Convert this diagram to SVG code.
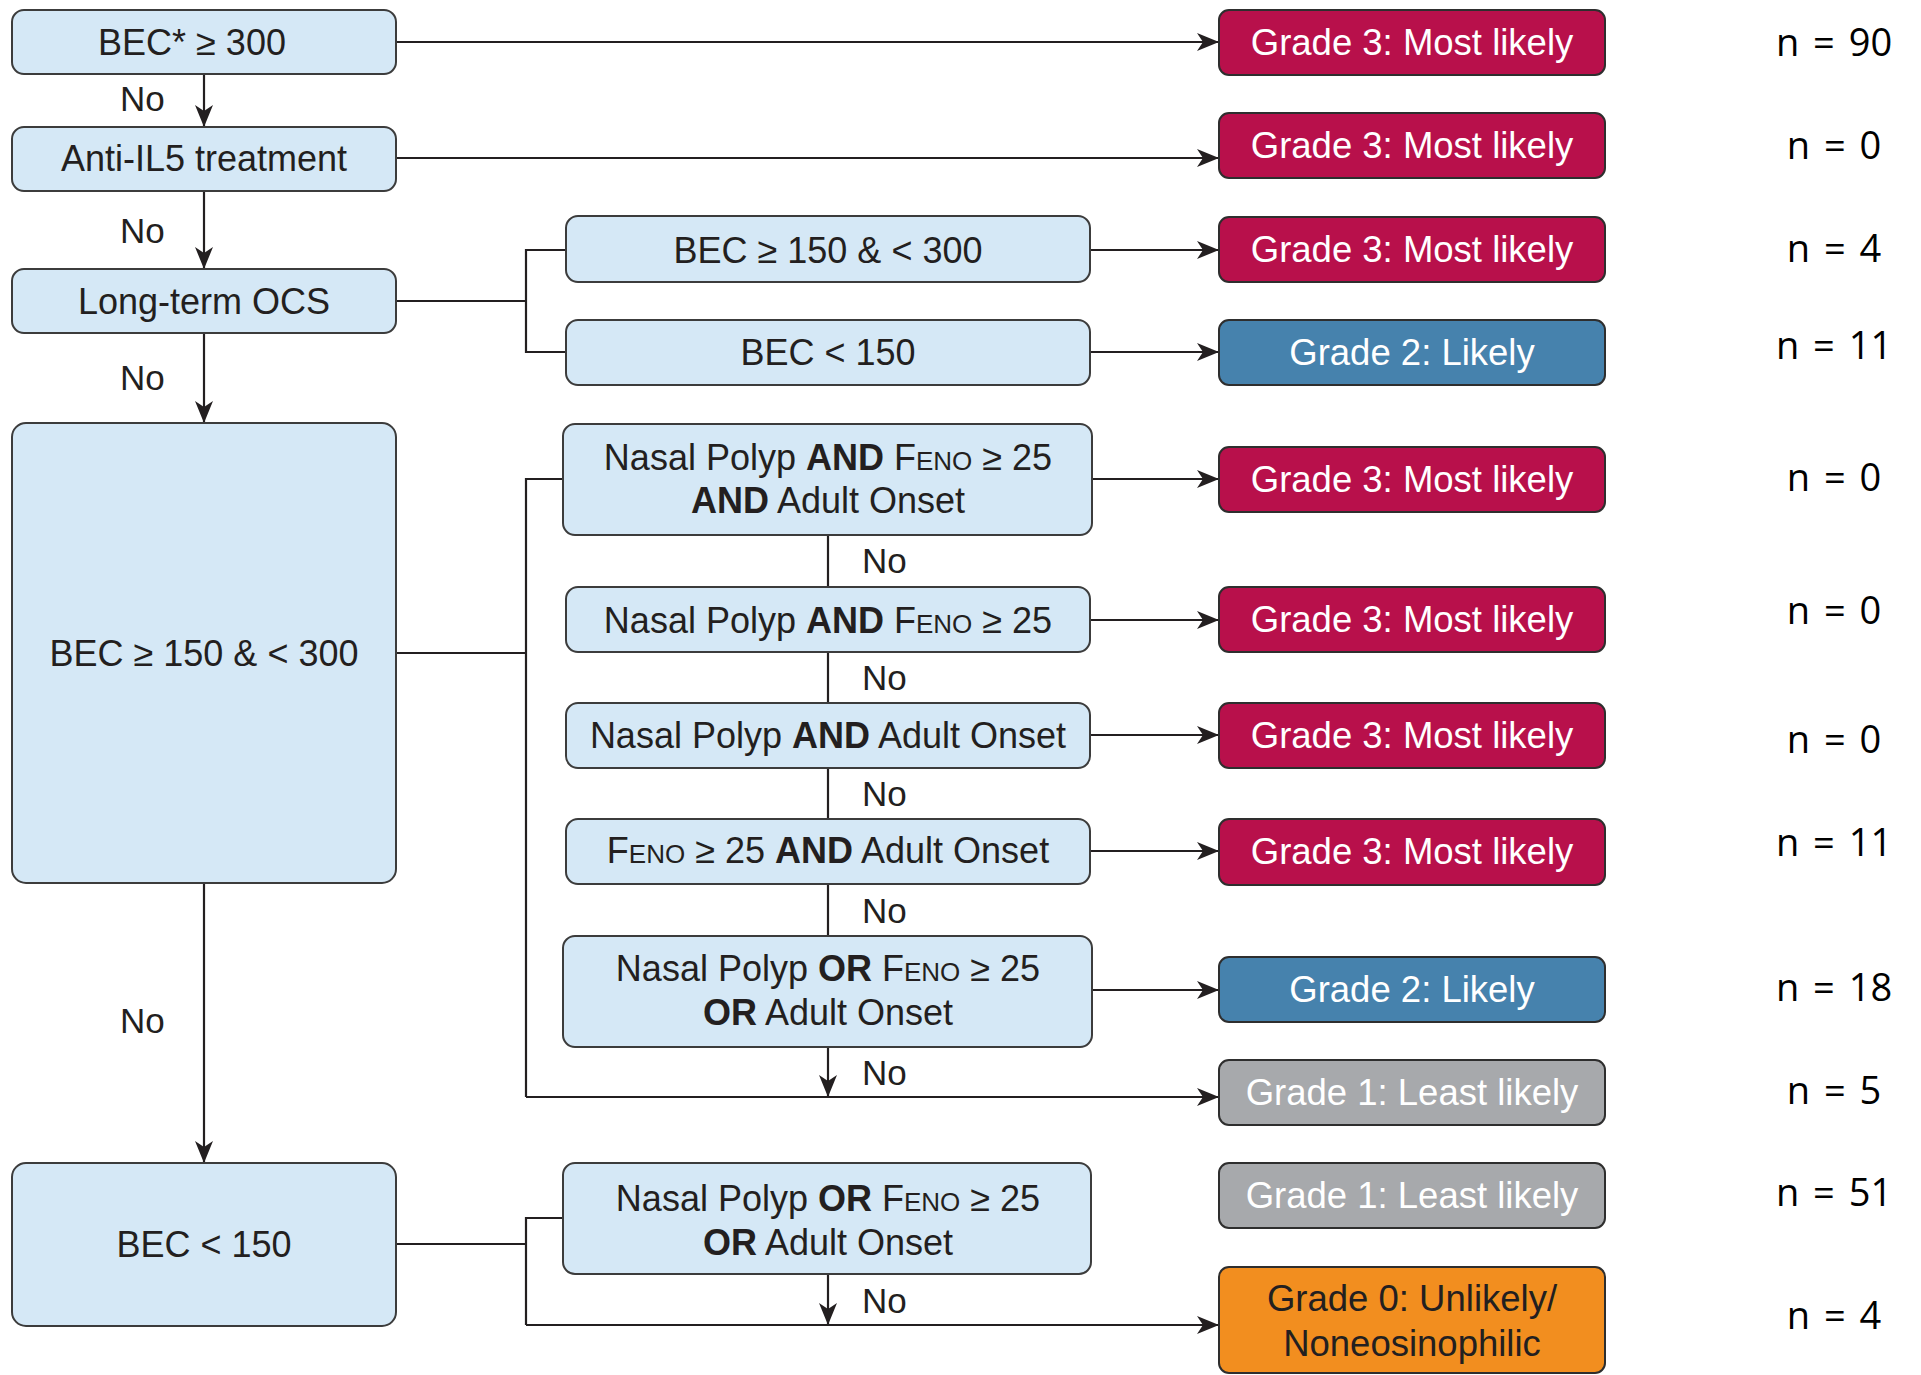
<svg xmlns="http://www.w3.org/2000/svg" width="1921" height="1375" viewBox="0 0 1921 1375">
<style>
.box{fill:#d5e8f6;stroke:#3c3c3c;stroke-width:2}
.t{font-family:"Liberation Sans",Arial,sans-serif;font-size:36px;fill:#231f20;text-anchor:middle}
.no{font-family:"Liberation Sans",Arial,sans-serif;font-size:35px;fill:#231f20}
.b{font-weight:bold}
.sc{font-size:26px}
.gb{stroke:#2e2e2e;stroke-width:2}
.g3{fill:#b8104b}
.g2{fill:#4682ad}
.g1{fill:#a7a9ac}
.g0{fill:#f28e1f}
.gt{font-family:"Liberation Sans",Arial,sans-serif;font-size:36.5px;fill:#ffffff;text-anchor:middle}
.gd{fill:#231f20}
.n{font-family:"Open Sans",sans-serif;font-size:38px;fill:#000;text-anchor:middle;word-spacing:4px}
.c{stroke:#231f20;stroke-width:2.2;fill:none}
</style>
<defs>
<marker id="ah" markerUnits="userSpaceOnUse" viewBox="0 0 22 18" markerWidth="22" markerHeight="18" refX="22" refY="9" orient="auto">
<path d="M0,0 L22,9 L0,18 L6,9 Z" fill="#231f20"/>
</marker>
</defs>

<g id="connectors">
<line class="c" x1="204" y1="74" x2="204" y2="127" marker-end="url(#ah)"/>
<line class="c" x1="204" y1="191" x2="204" y2="269" marker-end="url(#ah)"/>
<line class="c" x1="204" y1="333" x2="204" y2="423" marker-end="url(#ah)"/>
<line class="c" x1="204" y1="883" x2="204" y2="1163" marker-end="url(#ah)"/>
<line class="c" x1="396" y1="42" x2="1219" y2="42" marker-end="url(#ah)"/>
<line class="c" x1="396" y1="158" x2="1219" y2="158" marker-end="url(#ah)"/>
<path class="c" d="M396,301 H526 M566,250 H526 V352 H566"/>
<line class="c" x1="1090" y1="250" x2="1219" y2="250" marker-end="url(#ah)"/>
<line class="c" x1="1090" y1="352" x2="1219" y2="352" marker-end="url(#ah)"/>
<path class="c" d="M396,653 H526 M563,479 H526 V1097"/>
<line class="c" x1="1092" y1="479" x2="1219" y2="479" marker-end="url(#ah)"/>
<line class="c" x1="1090" y1="620" x2="1219" y2="620" marker-end="url(#ah)"/>
<line class="c" x1="1090" y1="735" x2="1219" y2="735" marker-end="url(#ah)"/>
<line class="c" x1="1090" y1="851" x2="1219" y2="851" marker-end="url(#ah)"/>
<line class="c" x1="1092" y1="990" x2="1219" y2="990" marker-end="url(#ah)"/>
<path class="c" d="M828,535 V587 M828,652 V703 M828,768 V819 M828,884 V936"/>
<line class="c" x1="828" y1="1047" x2="828" y2="1097" marker-end="url(#ah)"/>
<line class="c" x1="526" y1="1097" x2="1219" y2="1097" marker-end="url(#ah)"/>
<path class="c" d="M396,1244 H526 M563,1218 H526 V1325"/>
<line class="c" x1="828" y1="1274" x2="828" y2="1325" marker-end="url(#ah)"/>
<line class="c" x1="526" y1="1325" x2="1219" y2="1325" marker-end="url(#ah)"/>
<text class="no" x="120" y="111">No</text>
<text class="no" x="120" y="243">No</text>
<text class="no" x="120" y="390">No</text>
<text class="no" x="120" y="1033">No</text>
<text class="no" x="862" y="573">No</text>
<text class="no" x="862" y="690">No</text>
<text class="no" x="862" y="806">No</text>
<text class="no" x="862" y="923">No</text>
<text class="no" x="862" y="1085">No</text>
<text class="no" x="862" y="1313">No</text>
</g>

<g id="L1"><rect class="box" x="12" y="10" width="384" height="64" rx="12"/><text class="t" x="192" y="54.5">BEC* ≥ 300</text></g>
<g id="L2"><rect class="box" x="12" y="127" width="384" height="64" rx="12"/><text class="t" x="204" y="170.5">Anti-IL5 treatment</text></g>
<g id="L3"><rect class="box" x="12" y="269" width="384" height="64" rx="12"/><text class="t" x="204" y="313.5">Long-term OCS</text></g>
<g id="L4"><rect class="box" x="12" y="423" width="384" height="460" rx="14"/><text class="t" x="204" y="665.5">BEC ≥ 150 &amp; &lt; 300</text></g>
<g id="L5"><rect class="box" x="12" y="1163" width="384" height="163" rx="14"/><text class="t" x="204" y="1256.5">BEC &lt; 150</text></g>

<g id="M1"><rect class="box" x="566" y="216" width="524" height="66" rx="12"/><text class="t" x="828" y="262.5">BEC ≥ 150 &amp; &lt; 300</text></g>
<g id="M2"><rect class="box" x="566" y="320" width="524" height="65" rx="12"/><text class="t" x="828" y="364.5">BEC &lt; 150</text></g>
<g id="M3"><rect class="box" x="563" y="424" width="529" height="111" rx="12"/>
<text class="t" x="828" y="469.5">Nasal Polyp <tspan class="b">AND</tspan> F<tspan class="sc">ENO</tspan> ≥ 25</text>
<text class="t" x="828" y="512.5"><tspan class="b">AND</tspan> Adult Onset</text></g>
<g id="M4"><rect class="box" x="566" y="587" width="524" height="65" rx="12"/><text class="t" x="828" y="632.5">Nasal Polyp <tspan class="b">AND</tspan> F<tspan class="sc">ENO</tspan> ≥ 25</text></g>
<g id="M5"><rect class="box" x="566" y="703" width="524" height="65" rx="12"/><text class="t" x="828" y="747.5">Nasal Polyp <tspan class="b">AND</tspan> Adult Onset</text></g>
<g id="M6"><rect class="box" x="566" y="819" width="524" height="65" rx="12"/><text class="t" x="828" y="862.5">F<tspan class="sc">ENO</tspan> ≥ 25 <tspan class="b">AND</tspan> Adult Onset</text></g>
<g id="M7"><rect class="box" x="563" y="936" width="529" height="111" rx="12"/>
<text class="t" x="828" y="980.5">Nasal Polyp <tspan class="b">OR</tspan> F<tspan class="sc">ENO</tspan> ≥ 25</text>
<text class="t" x="828" y="1024.5"><tspan class="b">OR</tspan> Adult Onset</text></g>
<g id="M8"><rect class="box" x="563" y="1163" width="528" height="111" rx="12"/>
<text class="t" x="828" y="1210.5">Nasal Polyp <tspan class="b">OR</tspan> F<tspan class="sc">ENO</tspan> ≥ 25</text>
<text class="t" x="828" y="1254.5"><tspan class="b">OR</tspan> Adult Onset</text></g>

<g id="G1"><rect class="gb g3" x="1219" y="10" width="386" height="65" rx="10"/><text class="gt" x="1412" y="54.5">Grade 3: Most likely</text></g>
<g id="G2"><rect class="gb g3" x="1219" y="113" width="386" height="65" rx="10"/><text class="gt" x="1412" y="158">Grade 3: Most likely</text></g>
<g id="G3"><rect class="gb g3" x="1219" y="217" width="386" height="65" rx="10"/><text class="gt" x="1412" y="261.5">Grade 3: Most likely</text></g>
<g id="G4"><rect class="gb g2" x="1219" y="320" width="386" height="65" rx="10"/><text class="gt" x="1412" y="364.5">Grade 2: Likely</text></g>
<g id="G5"><rect class="gb g3" x="1219" y="447" width="386" height="65" rx="10"/><text class="gt" x="1412" y="491.5">Grade 3: Most likely</text></g>
<g id="G6"><rect class="gb g3" x="1219" y="587" width="386" height="65" rx="10"/><text class="gt" x="1412" y="631.5">Grade 3: Most likely</text></g>
<g id="G7"><rect class="gb g3" x="1219" y="703" width="386" height="65" rx="10"/><text class="gt" x="1412" y="747.5">Grade 3: Most likely</text></g>
<g id="G8"><rect class="gb g3" x="1219" y="819" width="386" height="66" rx="10"/><text class="gt" x="1412" y="863.5">Grade 3: Most likely</text></g>
<g id="G9"><rect class="gb g2" x="1219" y="957" width="386" height="65" rx="10"/><text class="gt" x="1412" y="1001.5">Grade 2: Likely</text></g>
<g id="G10"><rect class="gb g1" x="1219" y="1060" width="386" height="65" rx="10"/><text class="gt" x="1412" y="1104.5">Grade 1: Least likely</text></g>
<g id="G11"><rect class="gb g1" x="1219" y="1163" width="386" height="65" rx="10"/><text class="gt" x="1412" y="1207.5">Grade 1: Least likely</text></g>
<g id="G12"><rect class="gb g0" x="1219" y="1267" width="386" height="106" rx="10"/>
<text class="gt gd" x="1412" y="1310.5">Grade 0: Unlikely/</text>
<text class="gt gd" x="1412" y="1355.5">Noneosinophilic</text></g>

<g id="counts">
<text class="n" x="1834" y="55.5">n = 90</text>
<text class="n" x="1834" y="158.5">n = 0</text>
<text class="n" x="1834" y="261.5">n = 4</text>
<text class="n" x="1834" y="358.5">n = 11</text>
<text class="n" x="1834" y="490.5">n = 0</text>
<text class="n" x="1834" y="623.5">n = 0</text>
<text class="n" x="1834" y="752.5">n = 0</text>
<text class="n" x="1834" y="855.5">n = 11</text>
<text class="n" x="1834" y="1000.5">n = 18</text>
<text class="n" x="1834" y="1103.5">n = 5</text>
<text class="n" x="1834" y="1205.5">n = 51</text>
<text class="n" x="1834" y="1328.5">n = 4</text>
</g>
</svg>
